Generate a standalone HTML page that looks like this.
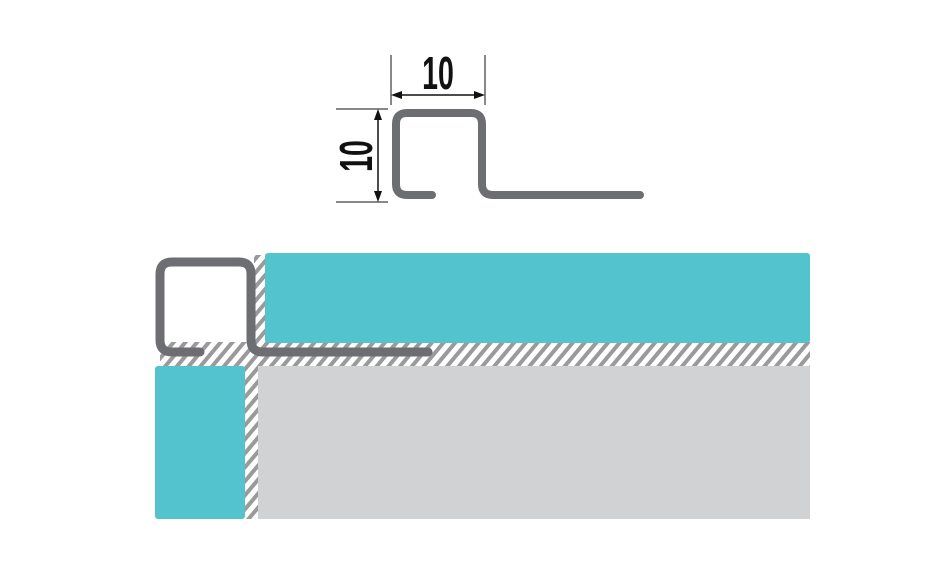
<!DOCTYPE html>
<html><head><style>body{margin:0;background:#fff}</style></head><body>
<svg width="946" height="562" xmlns="http://www.w3.org/2000/svg">
<defs>
<pattern id="h" width="9" height="9" patternUnits="userSpaceOnUse" patternTransform="rotate(40)">
<rect width="9" height="9" fill="#fff"/><rect width="4" height="9" fill="#9a9a9c"/>
</pattern>
</defs>
<rect x="254" y="255" width="12" height="110" fill="url(#h)"/>
<rect x="160" y="342" width="650" height="24" fill="url(#h)"/>
<rect x="244" y="364" width="15" height="155" fill="url(#h)"/>
<rect x="265" y="253" width="545" height="90" rx="3" fill="#53c3cd"/>
<rect x="155" y="366" width="90" height="153" rx="3" fill="#53c3cd"/>
<rect x="258" y="366" width="552" height="153" fill="#d1d2d4"/>
<path d="M200,352 H172 Q160,352 160,340 V274 Q160,262 172,262 H239 Q251,262 251,274 V340 Q251,352 263,352 H428" fill="none" stroke="#6d6e71" stroke-width="9" stroke-linecap="round"/>
<path d="M432,195 H407 Q396,195 396,184 V124 Q396,113 407,113 H471 Q482,113 482,124 V184 Q482,195 493,195 H640" fill="none" stroke="#6d6e71" stroke-width="8" stroke-linecap="round"/>
<g stroke="#111" stroke-width="1">
<line x1="391" y1="55" x2="391" y2="105"/>
<line x1="485" y1="55" x2="485" y2="105"/>
<line x1="336" y1="109" x2="388" y2="109"/>
<line x1="336" y1="202" x2="388" y2="202"/>
<line x1="395" y1="95" x2="481" y2="95" stroke-width="1.5"/>
<line x1="378" y1="113" x2="378" y2="198" stroke-width="1.5"/>
</g>
<path d="M391,95 l11,-4 v8z M485,95 l-11,-4 v8z M378,109 l-4,11 h8z M378,202 l-4,-11 h8z" fill="#111"/>
<text x="0" y="0" font-family="Liberation Sans Narrow, Liberation Sans, sans-serif" font-size="46" font-weight="bold" text-anchor="middle" fill="#111" transform="translate(438 89) scale(0.62 1)">10</text>
<text x="0" y="0" font-family="Liberation Sans Narrow, Liberation Sans, sans-serif" font-size="46" font-weight="bold" text-anchor="middle" fill="#111" transform="translate(372 156) rotate(-90) scale(0.62 1)">10</text>
</svg>
</body></html>
